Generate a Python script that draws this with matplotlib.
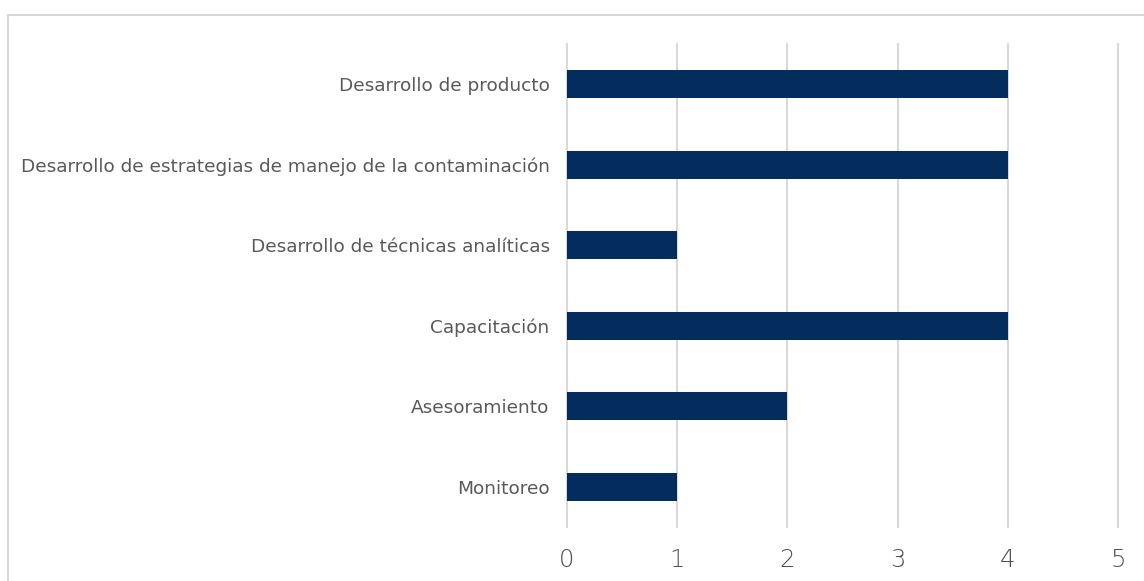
import matplotlib
matplotlib.use("Agg")
import matplotlib.pyplot as plt
from matplotlib.patches import Rectangle

# Categories listed bottom to top
categories = [
    "Monitoreo",
    "Asesoramiento",
    "Capacitación",
    "Desarrollo de técnicas analíticas",
    "Desarrollo de estrategias de manejo de la contaminación",
    "Desarrollo de producto",
]
values = [1, 2, 4, 1, 4, 4]
x_ticks = [0, 1, 2, 3, 4, 5]

BAR_COLOR = "#042c5c"
GRID_COLOR = "#d9d9d9"
TEXT_COLOR = "#595959"

plt.rcParams["font.family"] = ["DejaVu Sans"]

fig = plt.figure(figsize=(11.44, 5.81), dpi=100)
ax = fig.add_axes([567 / 1144, 1 - 527 / 581, (1118 - 567) / 1144, (527 - 44) / 581])

# chart area border, running off the right and bottom edges
fig.patches.append(Rectangle((8 / 1144, -0.1), 1.2, 1 - 15 / 581 + 0.1,
                             transform=fig.transFigure, fill=False,
                             edgecolor=GRID_COLOR, linewidth=1.5))

ax.barh(range(len(categories)), values, height=0.35, color=BAR_COLOR, zorder=3)

ax.set_xlim(0, 5)
ax.set_ylim(-0.5, len(categories) - 0.5)
ax.set_xticks(x_ticks)
ax.set_xticklabels([str(t) for t in x_ticks], fontsize=17.5, color="#505050",
                   fontweight="light")
ax.set_yticks(range(len(categories)))
ax.set_yticklabels(categories, fontsize=13.3, color=TEXT_COLOR)
ax.tick_params(axis="x", length=0, pad=15)
ax.tick_params(axis="y", length=0, pad=12.5)

for t in x_ticks:
    ax.axvline(t, color=GRID_COLOR, linewidth=1.5, zorder=1, clip_on=False)
for s in ax.spines.values():
    s.set_visible(False)

fig.savefig("out.png", dpi=100)
